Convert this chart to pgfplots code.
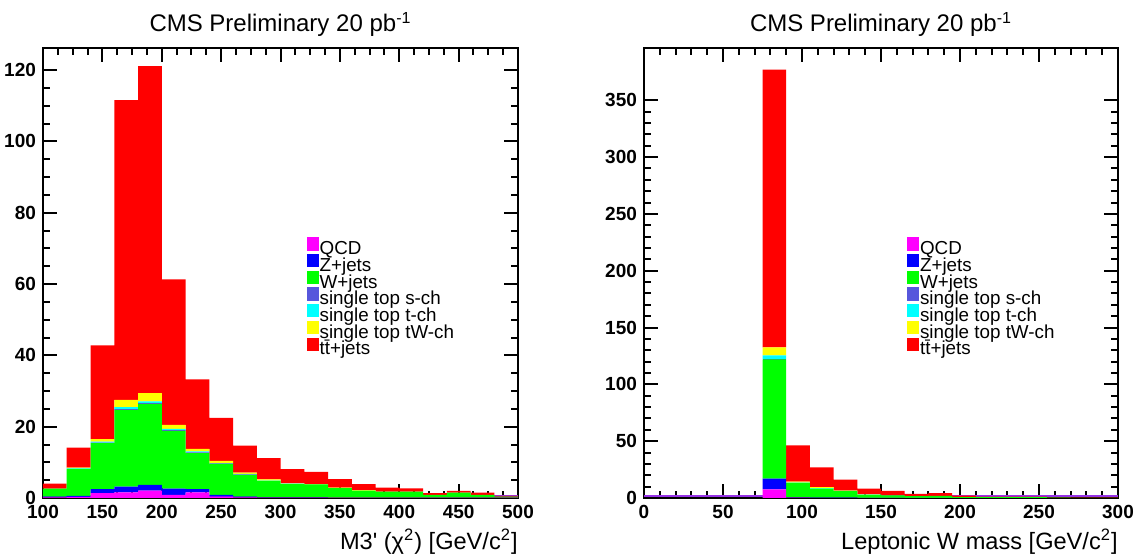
\documentclass[border=0pt]{standalone}
\usepackage{fontspec}
\setmainfont{Liberation Sans}
\usepackage{pgfplots}
\usepackage{pgfplotstable}
\pgfplotsset{compat=1.18}

\definecolor{cQCD}{RGB}{255,0,255}
\definecolor{cZ}{RGB}{0,0,255}
\definecolor{cW}{RGB}{0,255,0}
\definecolor{cS}{RGB}{87,87,220}
\definecolor{cT}{RGB}{0,255,255}
\definecolor{cTW}{RGB}{255,255,0}
\definecolor{cTT}{RGB}{255,0,0}
\definecolor{cLine}{RGB}{150,50,230}

% M3' (chi2), 20 GeV bins
\pgfplotstableread{
x   qcd  z    w     s    t    tw   tt
110 0.2  0.2  2.2   0    0    0    1.4
130 0.3  0.3  7.6   0    0.1  0.2  5.6
150 1.4  1.1  12.9  0.1  0.3  0.7  26.3
170 1.6  1.6  21.5  0.2  0.6  2.0  84.1
190 2.1  1.6  22.7  0.2  0.5  2.3  91.7
210 0.9  1.7  16.2  0.2  0.4  1.1  40.8
230 1.6  0.9  10.1  0.2  0.3  0.7  19.5
250 0.4  0.5  8.7   0.1  0.1  0.6  12.1
270 0.2  0.2  6.1   0.1  0.2  0.3  7.6
290 0.1  0.1  4.6   0    0.1  0.3  6.0
310 0.1  0.1  3.7   0    0.1  0.1  4.0
330 0.1  0.1  3.6   0    0.05 0.05 3.4
350 0.1  0    2.7   0    0    0.1  2.4
370 0.1  0    2.0   0    0    0.1  1.7
390 0.1  0    1.7   0    0    0    1.1
410 0.1  0    1.7   0    0    0    0.9
430 0.1  0    0.8   0    0    0    0.5
450 0.1  0    1.4   0    0    0    0.5
470 0.1  0    0.8   0    0    0    0.6
490 0.1  0    0.3   0    0    0    0.2
}\leftdata

% Leptonic W mass, 15 GeV bins
\pgfplotstableread{
x     qcd  z    w      s    t    tw   tt
7.5   0    0    0      0    0    0    0
22.5  0    0    0      0    0    0    0
37.5  0    0    0      0    0    0    0
52.5  0    0    0      0    0    0    0
67.5  0    0    0      0    0    0    0
82.5  7.5  9.6  104.8  0.5  3.0  7.1  244.5
97.5  0.3  0.3  12.7   0    0.3  0.7  31.9
112.5 0.2  0.2  7.9    0    0.4  0.8  17.5
127.5 0.2  0.1  5.7    0    0.2  0.3  9.7
142.5 0.1  0.1  2.6    0    0.1  0.2  5.2
157.5 0.1  0.1  2.0    0    0.1  0.1  3.9
172.5 0.1  0    1.5    0    0    0.1  2.0
187.5 0.1  0    1.8    0    0    0    2.4
202.5 0    0    0.8    0    0    0    1.2
217.5 0    0    0.7    0    0    0    0.6
232.5 0    0    0.8    0    0    0    0.4
247.5 0    0    0.8    0    0    0    0.3
262.5 0    0    0.3    0    0    0    0.2
277.5 0    0    0.2    0    0    0    0.2
292.5 0    0    0.1    0    0    0    0.2
}\rightdata

\pgfplotsset{
  cmslegend/.style={draw=none, legend image code/.code={\fill[##1,draw=none] (0pt,-0.3pt) rectangle (5.8pt,6.3pt);}},
  cmsstyle/.style={
    scale only axis,
    anchor=south west,
    height=225pt,
    ybar stacked,
    bar shift=0pt,
    ymin=0,
    axis line style={line width=1pt},
    every tick/.style={black, line width=1pt},
    major tick length=7pt,
    minor tick length=3.5pt,
    tick align=inside,
    /pgf/number format/assume math mode=true,
    ticklabel style={font=\bfseries\fontsize{9.5}{9.5}\selectfont},
    title style={at={(rel axis cs:0.5,1)}, anchor=base, yshift=2pt, font=\fontsize{12}{12}\selectfont, inner sep=0pt},
    xlabel style={at={(rel axis cs:1,0)}, anchor=north east, yshift=-15.5pt, font=\fontsize{11.8}{11.8}\selectfont, inner sep=0pt},
    legend style={draw=none, fill=none, at={(rel axis cs:0.555,0.58)}, anchor=north west,
      font=\fontsize{9.4}{9.4}\selectfont, inner sep=0pt, row sep=-2.1pt,
      nodes={inner xsep=0.5pt, inner ysep=0pt, text height=6.5pt, text depth=1.8pt}},
    legend cell align=left,
    every axis plot post/.append style={cmslegend},
  },
}

\begin{document}
\begin{tikzpicture}
\path[use as bounding box] (0,0) rectangle (571.5pt,277.5pt);

\begin{axis}[cmsstyle,
  at={(21.5pt,28.5pt)}, width=237.5pt,
  xmin=100, xmax=500, ymax=126.2,
  bar width=20,
  xtick={100,150,...,500}, ytick={0,20,...,120},
  minor x tick num=3, minor y tick num=3,
  title={CMS Preliminary 20 pb\textsuperscript{-1}},
  xlabel={M3\textquotesingle{} (χ\textsuperscript{2}) [GeV/c\textsuperscript{2}]},
]
\addplot[fill=cQCD] table[x=x,y=qcd] {\leftdata};
\addplot[fill=cZ] table[x=x,y=z] {\leftdata};
\addplot[fill=cW] table[x=x,y=w] {\leftdata};
\addplot[fill=cS] table[x=x,y=s] {\leftdata};
\addplot[fill=cT] table[x=x,y=t] {\leftdata};
\addplot[fill=cTW] table[x=x,y=tw] {\leftdata};
\addplot[fill=cTT] table[x=x,y=tt] {\leftdata};
\legend{QCD, Z+jets, W+jets, single top s-ch, single top t-ch, single top tW-ch, t\={t}+jets}
\draw[cLine, line width=0.8pt] ([yshift=0.9pt]rel axis cs:0,0) -- ([yshift=0.9pt]rel axis cs:1,0);
\end{axis}

\begin{axis}[cmsstyle,
  at={(322pt,28.5pt)}, width=237pt,
  xmin=0, xmax=300, ymax=396,
  bar width=15,
  xtick={0,50,...,300}, ytick={0,50,...,350},
  minor x tick num=4, minor y tick num=4,
  title={CMS Preliminary 20 pb\textsuperscript{-1}},
  xlabel={Leptonic W mass [GeV/c\textsuperscript{2}]},
]
\addplot[fill=cQCD] table[x=x,y=qcd] {\rightdata};
\addplot[fill=cZ] table[x=x,y=z] {\rightdata};
\addplot[fill=cW] table[x=x,y=w] {\rightdata};
\addplot[fill=cS] table[x=x,y=s] {\rightdata};
\addplot[fill=cT] table[x=x,y=t] {\rightdata};
\addplot[fill=cTW] table[x=x,y=tw] {\rightdata};
\addplot[fill=cTT] table[x=x,y=tt] {\rightdata};
\legend{QCD, Z+jets, W+jets, single top s-ch, single top t-ch, single top tW-ch, t\={t}+jets}
\draw[cLine, line width=0.8pt] ([yshift=0.9pt]rel axis cs:0,0) -- ([yshift=0.9pt]rel axis cs:1,0);
\end{axis}
\end{tikzpicture}
\end{document}
